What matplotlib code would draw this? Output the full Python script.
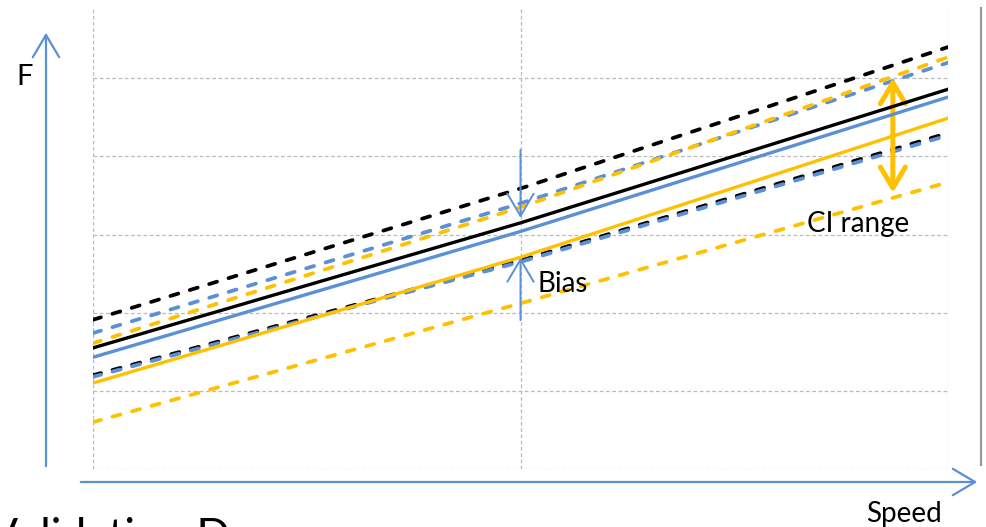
import matplotlib.pyplot as plt
from matplotlib.lines import Line2D
from matplotlib.patches import FancyArrowPatch

plt.rcParams['font.family'] = ['Lato', 'DejaVu Sans']

# speed positions (left, middle, right)
x = [0, 1, 2]

# F values
black_mid = [1.55, 3.15, 4.86]
black_hi = [1.91, 3.59, 5.40]
black_lo = [1.20, 2.67, 4.30]
blue_mid = [1.43, 3.04, 4.76]
blue_hi = [1.74, 3.40, 5.20]
blue_lo = [1.18, 2.65, 4.27]
orange_mid = [1.10, 2.71, 4.49]
orange_hi = [1.61, 3.35, 5.27]
orange_lo = [0.60, 2.12, 3.67]

BLUE = "#5B8FD6"
ORANGE = "#FFC000"
BLACK = "#000000"

fig = plt.figure(figsize=(9.86, 5.27), dpi=100)
ax = fig.add_axes([93/986, 58/527, (948-93)/986, (469-8)/527])

dash = (2.2, 3.2)
for hi, lo, c in [(black_hi, black_lo, BLACK), (blue_hi, blue_lo, BLUE), (orange_hi, orange_lo, ORANGE)]:
    ax.plot(x, hi, color=c, lw=2.7, dashes=dash, dash_capstyle="round", zorder=3)
    ax.plot(x, lo, color=c, lw=2.7, dashes=dash, dash_capstyle="round", zorder=3)
ax.plot(x, black_mid, color=BLACK, lw=2.4, zorder=4)
ax.plot(x, blue_mid, color=BLUE, lw=2.4, zorder=4)
ax.plot(x, orange_mid, color=ORANGE, lw=2.4, zorder=4)

ax.set_xlim(0, 2)
ax.set_ylim(0, 5.9)
ax.set_xticks([0, 1, 2])
ax.set_yticks([0, 1, 2, 3, 4, 5])
ax.grid(True, color="#BBBBBB", lw=0.9, dashes=(3, 2))
ax.tick_params(length=0, labelbottom=False, labelleft=False)
for s in ax.spines.values():
    s.set_visible(False)

head = "->,head_length=1.6,head_width=0.95"

# bias arrows
ax.annotate("", xy=(1, 3.18), xytext=(1, 4.12),
            arrowprops=dict(arrowstyle=head, color=BLUE, lw=1.4, mutation_scale=10))
ax.annotate("", xy=(1, 2.74), xytext=(1, 1.87),
            arrowprops=dict(arrowstyle=head, color=BLUE, lw=1.4, mutation_scale=10))
ax.text(1.04, 2.26, "Bias", fontsize=20, va="baseline", ha="left")

# CI range arrow
ax.annotate("", xy=(1.871, 5.04), xytext=(1.871, 3.50),
            arrowprops=dict(arrowstyle="<->,head_length=1.5,head_width=0.9", color=ORANGE,
                            lw=3.6, mutation_scale=10))
ax.text(1.67, 3.03, "CI range", fontsize=20, va="baseline", ha="left")

# axis arrows
fig.add_artist(FancyArrowPatch(
    (46/986, 58/527), (46/986, 497/527), transform=fig.transFigure,
    arrowstyle=head, color=BLUE, lw=1.6, mutation_scale=10))
fig.add_artist(FancyArrowPatch(
    (78/986, 45/527), (980/986, 45/527), transform=fig.transFigure,
    arrowstyle=head, color=BLUE, lw=1.6, mutation_scale=10))

# grey divider at right
fig.add_artist(Line2D([981/986, 981/986], [(527-8)/527, (527-465)/527],
                      transform=fig.transFigure, color="#999999", lw=1.6))

fig.text(25/986, (527-85)/527, "F", fontsize=21, ha="center", va="baseline")
fig.text(904/986, (527-522)/527, "Speed", fontsize=20, ha="center", va="baseline")
fig.text(-12/986, (527-550)/527, "Validation D", fontsize=32, ha="left", va="baseline")

fig.savefig("out.png", dpi=100)
